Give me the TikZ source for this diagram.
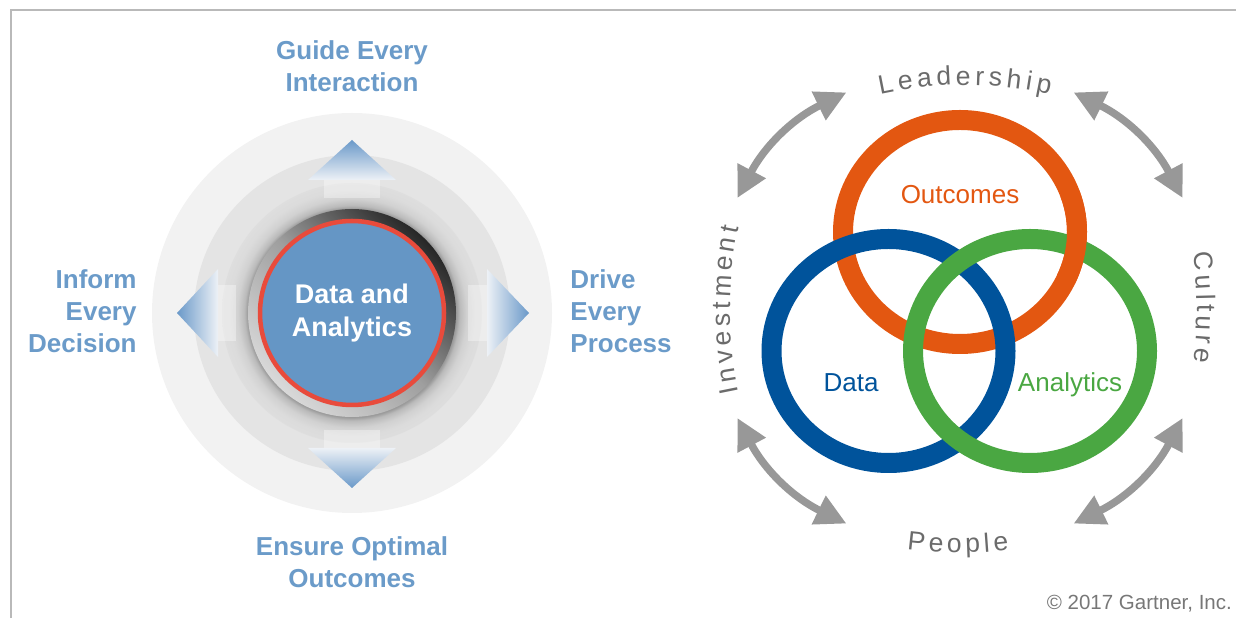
\documentclass[tikz,border=0pt]{standalone}
\usepackage{fontspec}
\setmainfont{Liberation Sans}
\usetikzlibrary{positioning, arrows.meta}

\definecolor{labelblue}{HTML}{6B9BC9}
\definecolor{hubblue}{HTML}{6596C5}
\definecolor{hubred}{HTML}{E84B3C}
\definecolor{ringouter}{HTML}{F2F2F2}
\definecolor{ringmid}{HTML}{E4E4E4}
\definecolor{tipblue}{HTML}{6A99C9}
\definecolor{tiplight}{HTML}{EDF1F6}
\definecolor{outorange}{HTML}{E35711}
\definecolor{datablue}{HTML}{00539B}
\definecolor{anagreen}{HTML}{4AA742}
\definecolor{arrowgray}{HTML}{989898}
\definecolor{wordgray}{HTML}{6B6B6B}
\definecolor{framegray}{HTML}{B9B9B9}
\definecolor{copygray}{HTML}{777777}

% 25bp = outer edge of the shaded circle
\pgfdeclareradialshading{halo}{\pgfpoint{0bp}{0bp}}{%
  color(0bp)=(black!40); color(20bp)=(black!40); color(20.7bp)=(black!27);
  color(22bp)=(black!18); color(23.5bp)=(black!14); color(25bp)=(black!13);
  color(50bp)=(black!13)}

\begin{document}
\begin{tikzpicture}[x=1pt, y=1pt,
  every node/.style={inner sep=0pt},
  bluelabel/.style={text=labelblue, font=\fontsize{26}{32}\selectfont\bfseries},
  hub/.style={circle, minimum size=184pt, draw=hubred, line width=4.5pt,
    fill=hubblue, text=white, align=center,
    font=\fontsize{27}{33}\selectfont\bfseries},
  vennring/.style={line width=20pt},
  vennword/.style={font=\fontsize{26}{30}\selectfont, anchor=base},
  arcletter/.style={font=\fontsize{26.5}{30}\selectfont, text=wordgray, anchor=base},
  twoway/.style={draw=arrowgray, line width=7.5pt,
    {Triangle[length=31pt,width=30pt]}-{Triangle[length=31pt,width=30pt]}}]

  \useasboundingbox (0,0) rectangle (1236,618);

  % frame
  \draw[framegray, line width=2pt] (11,0) -- (11,607.5) -- (1236,607.5);

  % Dial on the left
  \coordinate (dial) at (352,305);
  \fill[ringouter] (dial) circle (200);
  \fill[ringmid] (dial) circle (158);
  \shade[shading=halo] (dial) circle (130);

  % arrow shafts
  \fill[white, opacity=.35] (324,420) rectangle (380,438);
  \fill[white, opacity=.35] (324,170) rectangle (380,188);
  \fill[white, opacity=.35] (218,277) rectangle (236,333);
  \fill[white, opacity=.35] (468,277) rectangle (487,333);

  % arrow heads
  \shade[top color=tipblue, bottom color=tiplight] (352,478) -- (308,438) -- (396,438) -- cycle;
  \shade[top color=tiplight, bottom color=tipblue] (352,130) -- (308,170) -- (396,170) -- cycle;
  \shade[left color=tipblue, right color=tiplight] (177,305) -- (218,261) -- (218,349) -- cycle;
  \shade[left color=tiplight, right color=tipblue] (529,305) -- (487,261) -- (487,349) -- cycle;

  % bezel and button
  \shade[top color=black!85, bottom color=white!85!black, middle color=black!38,
    shading angle=-45] (dial) circle (104);
  \node[hub] (hub) at (dial) {Data and\\Analytics};

  % dial labels
  \node[bluelabel, align=center, above=127pt of hub] (guide) {Guide Every\\Interaction};
  \node[bluelabel, align=center, below=129pt of hub] (ensure) {Ensure Optimal\\Outcomes};
  \node[bluelabel, align=right, left=121pt of hub, yshift=2pt] (inform) {Inform\\Every\\Decision};
  \node[bluelabel, align=left, right=124pt of hub, yshift=2pt] (drive) {Drive\\Every\\Process};

  % Venn rings on the right
  \coordinate (oc) at (960,386);
  \coordinate (dc) at (888.5,267);
  \coordinate (ac) at (1030,267);
  \draw[vennring, outorange] (oc) ellipse [x radius=117, y radius=112];
  \draw[vennring, datablue] (dc) ellipse [x radius=117, y radius=112];
  \draw[vennring, anagreen] (ac) ellipse [x radius=117, y radius=112];
  % orange passes over green on the right
  \draw[vennring, outorange] ([shift={(-25:117 and 112)}]oc)
    arc [start angle=-25, end angle=20, x radius=117, y radius=112];

  \node[vennword, text=outorange] (outw) at (960,414) {Outcomes};
  \node[vennword, text=datablue] (dataw) at (851,226) {Data};
  \node[vennword, text=anagreen] (anaw) at (1070,226) {Analytics};

  % double arrows round the rings
  \coordinate (venn) at (960,310);
  \foreach \s/\e [count=\i] in {27/63, 117/153, 207/243, 297/333} {
    \coordinate (sw\i) at ([shift={(\s:250 and 242)}]venn);
    \coordinate (ew\i) at ([shift={(\e:250 and 242)}]venn);
    \draw[twoway] (sw\i) to[bend right=18] (ew\i);
  }

  % curved words
  \coordinate (leadc) at (965,133);
  \coordinate (peoc) at (958,465);
  \coordinate (invc) at (1130,308);
  \coordinate (culc) at (797,310.5);
  \foreach \ltr/\ang [count=\i] in {L/101.18, e/98.44, a/95.71, d/92.98, e/90.25,
      r/87.92, s/85.70, h/83.07, i/80.95, p/78.82}
    \node[arcletter, rotate=\ang-90] (lead\i) at ([shift={(\ang:400)}]leadc) {\ltr};
  \foreach \ltr/\ang [count=\i] in {P/263.92, e/266.80, o/269.47, p/272.15, l/274.21, e/276.28}
    \node[arcletter, rotate=\ang-270] (peo\i) at ([shift={(\ang:400)}]peoc) {\ltr};
  \foreach \ltr/\ang [count=\i] in {I/191.39, n/189.21, v/186.62, e/184.03, s/181.44,
      t/179.37, m/176.68, e/173.48, n/170.80, t/168.61}
    \node[arcletter, rotate=\ang-90] (inv\i) at ([shift={(\ang:400)}]invc) {\ltr};
  \foreach \ltr/\ang [count=\i] in {C/6.49, u/3.51, l/1.45, t/-0.10, u/-2.27, r/-4.53, e/-6.79}
    \node[arcletter, rotate=\ang-90] (cul\i) at ([shift={(\ang:400)}]culc) {\ltr};

  \node[anchor=base east, font=\fontsize{20.5}{24}\selectfont, text=copygray] (copy)
    at (1232,8.6) {© 2017 Gartner, Inc.};

\end{tikzpicture}
\end{document}
